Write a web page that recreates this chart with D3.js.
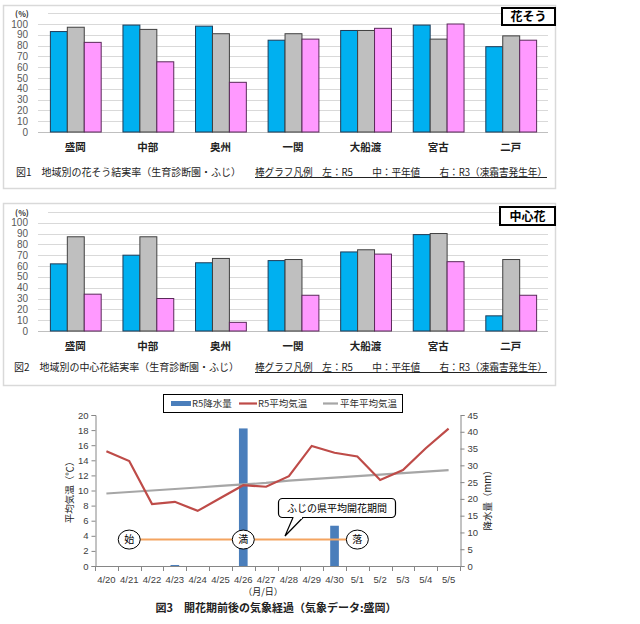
<!DOCTYPE html>
<html><head><meta charset="utf-8">
<script src="https://cdn.jsdelivr.net/npm/d3@7"></script>
<style>body{margin:0;background:#fff}svg{display:block}</style>
</head><body>
<script>
// ---------- DATA ----------
const regions = ["盛岡","中部","奥州","一関","大船渡","宮古","二戸"];
const seriesNames = ["R5","平年値","R3"];
// Fig 1: flower cluster fruit set (%)
const cluster_R5     = [93, 99, 98, 85, 94, 99, 79];
const cluster_normal = [97, 95, 91, 91, 94, 86, 89];
const cluster_R3     = [83, 65, 46, 86, 96, 100, 85];
// Fig 2: king flower fruit set (%)
const king_R5     = [62, 70, 63, 65, 73, 89, 14];
const king_normal = [87, 87, 67, 66, 75, 90, 66];
const king_R3     = [34, 30, 8, 33, 71, 64, 33];
const barTicks = [0,10,20,30,40,50,60,70,80,90,100];

// Fig 3: weather
const dates = ["4/20","4/21","4/22","4/23","4/24","4/25","4/26","4/27","4/28","4/29","4/30","5/1","5/2","5/3","5/4","5/5"];
const precipR5 = [0,0,0,0.3,0,0,41,0,0,0,12,0,0,0,0,0];
const tempR5 = [15.2,13.9,8.2,8.5,7.3,9.0,10.7,10.5,11.9,15.9,15.0,14.5,11.4,12.7,15.6,18.2];
const tempNormal = [9.6,9.8,10.0,10.2,10.4,10.6,10.8,11.0,11.3,11.5,11.7,11.9,12.1,12.3,12.5,12.7];
const bloom = [{label:"始",date:"4/21"},{label:"満",date:"4/26"},{label:"落",date:"5/1"}];
const bloomLevel = 3.5;
const tempTicks = [0,2,4,6,8,10,12,14,16,18,20];
const precipTicks = [0,5,10,15,20,25,30,35,40,45];

const colors = ["#00b0f0","#bfbfbf","#ff99ff"];
const JP = "'Noto Sans CJK JP','Noto Sans',sans-serif";
const NUM = "'Liberation Sans',Arial,sans-serif";

const svg = d3.select("body").append("svg").attr("width",640).attr("height",624);

function barChart(cfg){
  const g = svg.append("g");
  g.append("rect").attr("x",cfg.fx).attr("y",cfg.fy).attr("width",cfg.fw).attr("height",cfg.fh)
    .attr("fill","none").attr("stroke","#d9d9d9").attr("stroke-width",1.5);
  const y = d3.scaleLinear().domain([0,110]).range([cfg.y0, cfg.y0 - 110*cfg.k]);
  const x = d3.scaleBand().domain(regions).range([39,547]).paddingInner(0.3).paddingOuter(0.15);
  const xs = d3.scaleBand().domain(seriesNames).range([0,x.bandwidth()]);
  // grid
  g.selectAll("line.grid").data(d3.range(10,111,10)).join("line")
    .attr("x1",d=>d===110?48:38).attr("x2",548)
    .attr("y1",d=>Math.round(y(d))+0.5).attr("y2",d=>Math.round(y(d))+0.5)
    .attr("stroke","#d9d9d9").attr("stroke-width",1);
  g.append("line").attr("x1",38).attr("x2",548).attr("y1",Math.round(y(0))+0.5).attr("y2",Math.round(y(0))+0.5)
    .attr("stroke","#bfbfbf");
  // y labels
  g.selectAll("text.yt").data(barTicks).join("text")
    .attr("x",28).attr("y",d=>y(d)+3.5).attr("text-anchor","end")
    .attr("font-family",NUM).attr("font-size",10).attr("fill","#595959").text(d=>d);
  g.append("text").attr("x",22).attr("y",y(110)+4).attr("text-anchor","middle")
    .attr("font-family",JP).attr("font-size",8).attr("font-weight","bold").attr("fill","#333").text("(%)");
  // bars
  const rows = regions.map((r,i)=>({r, vals: cfg.series.map(s=>s[i])}));
  const grp = g.selectAll("g.grp").data(rows).join("g").attr("transform",d=>`translate(${x(d.r)},0)`);
  grp.selectAll("rect").data(d=>d.vals.map((v,j)=>({v,s:seriesNames[j],j}))).join("rect")
    .attr("x",d=>xs(d.s)+0.5).attr("width",xs.bandwidth())
    .attr("y",d=>y(d.v)).attr("height",d=>y(0)-y(d.v))
    .attr("fill",d=>colors[d.j]).attr("stroke",d=>["#1f3b57","#404040","#5a2a5a"][d.j]).attr("stroke-width",1);
  // categories
  g.selectAll("text.cat").data(regions).join("text")
    .attr("x",d=>x(d)+x.bandwidth()/2).attr("y",cfg.catY).attr("text-anchor","middle")
    .attr("font-family",JP).attr("font-size",10.5).attr("font-weight","bold").attr("fill","#222").text(d=>d);
  // caption
  g.append("text").attr("x",cfg.capX).attr("y",cfg.capY).attr("font-family",JP).attr("font-size",10)
    .attr("fill","#222").attr("textLength",225).attr("lengthAdjust","spacing").text(cfg.caption);
  g.append("text").attr("x",255).attr("y",cfg.capY).attr("font-family",JP).attr("font-size",10)
    .attr("fill","#222").attr("text-decoration","underline").attr("textLength",292).attr("lengthAdjust","spacingAndGlyphs")
    .text("棒グラフ凡例　左：R5　　中：平年値　　右：R3（凍霜害発生年）");
  // tag box
  g.append("rect").attr("x",cfg.tag[0]).attr("y",cfg.tag[1]).attr("width",cfg.tag[2]).attr("height",cfg.tag[3])
    .attr("fill","#fff").attr("stroke","#000").attr("stroke-width",2);
  g.append("text").attr("x",cfg.tag[0]+cfg.tag[2]/2).attr("y",cfg.tag[1]+cfg.tag[3]/2+4.5).attr("text-anchor","middle")
    .attr("font-family",JP).attr("font-size",12).attr("font-weight","bold").text(cfg.tagText);
}

barChart({fx:3.5,fy:5.5,fw:552,fh:183,y0:132,k:1.08,series:[cluster_R5,cluster_normal,cluster_R3],
  catY:151,capX:16,capY:176,caption:"図1　地域別の花そう結実率（生育診断園・ふじ）",tag:[502,8,53,17],tagText:"花そう"});
barChart({fx:3.5,fy:203.5,fw:552,fh:182,y0:331,k:1.083,series:[king_R5,king_normal,king_R3],
  catY:350,capX:14,capY:371,caption:"図2　地域別の中心花結実率（生育診断園・ふじ）",tag:[500,207,55,18],tagText:"中心花"});

// ---------- Fig 3 ----------
(function(){
  const g = svg.append("g");
  const x = d3.scaleBand().domain(dates).range([95,460]);
  const yL = d3.scaleLinear().domain([0,20]).range([566,415]);
  const yR = d3.scaleLinear().domain([0,45]).range([566,415]);
  const cx = d => x(d)+x.bandwidth()/2;
  // precip bars
  const bw = x.bandwidth()*0.38;
  g.selectAll("rect.p").data(dates.map((d,i)=>({d,v:precipR5[i]})).filter(o=>o.v>0)).join("rect")
    .attr("x",o=>cx(o.d)-bw/2).attr("width",bw).attr("y",o=>yR(o.v)).attr("height",o=>yR(0)-yR(o.v))
    .attr("fill","#4a7ebb");
  // normal temp
  const line = d3.line().x((v,i)=>cx(dates[i])).y(v=>yL(v));
  g.append("path").attr("d",line(tempNormal)).attr("fill","none").attr("stroke","#a6a6a6").attr("stroke-width",2.2);
  g.append("path").attr("d",line(tempR5)).attr("fill","none").attr("stroke","#be4b48").attr("stroke-width",2.2);
  // axes
  const axL = g.append("g").attr("transform","translate(95.5,0)").call(d3.axisLeft(yL).tickValues(tempTicks).tickSize(4));
  const axR = g.append("g").attr("transform","translate(460.5,0)").call(d3.axisRight(yR).tickValues(precipTicks).tickSize(4));
  [axL,axR].forEach(a=>{
    a.select(".domain").attr("stroke","#868686");
    a.selectAll(".tick line").attr("stroke","#868686");
    a.selectAll("text").attr("font-family",NUM).attr("font-size",9.5).attr("fill","#404040");
  });
  g.append("line").attr("x1",95).attr("x2",461).attr("y1",566.5).attr("y2",566.5).attr("stroke","#868686");
  const bounds = dates.map(d=>x(d)).concat([x(dates[dates.length-1])+x.bandwidth()]);
  g.selectAll("line.xt").data(bounds).join("line").attr("x1",d=>Math.round(d)+0.5).attr("x2",d=>Math.round(d)+0.5)
    .attr("y1",566).attr("y2",571).attr("stroke","#868686");
  g.selectAll("text.xl").data(dates).join("text").attr("x",cx).attr("y",583).attr("text-anchor","middle")
    .attr("font-family",NUM).attr("font-size",9.5).attr("fill","#404040").text(d=>d);
  // axis titles
  g.append("text").attr("transform","translate(73,490) rotate(-90)").attr("text-anchor","middle")
    .attr("font-family",JP).attr("font-size",9.5).attr("fill","#222").text("平均気温（℃）");
  g.append("text").attr("transform","translate(491,498) rotate(-90)").attr("text-anchor","middle")
    .attr("font-family",JP).attr("font-size",9.5).attr("fill","#222").text("降水量（mm）");
  g.append("text").attr("x",263).attr("y",595).attr("text-anchor","middle")
    .attr("font-family",JP).attr("font-size",9).attr("fill","#222").text("（月/日）");
  g.append("text").attr("x",276).attr("y",612).attr("text-anchor","middle")
    .attr("font-family",JP).attr("font-size",11).attr("font-weight","bold").attr("fill","#222")
    .text("図3　開花期前後の気象経過（気象データ:盛岡）");
  // bloom period
  const by = yL(bloomLevel);
  g.append("line").attr("x1",cx(bloom[0].date)).attr("x2",cx(bloom[2].date)).attr("y1",by).attr("y2",by)
    .attr("stroke","#f4a460").attr("stroke-width",2);
  const bl = g.selectAll("g.bl").data(bloom).join("g").attr("transform",d=>`translate(${cx(d.date)},${by})`);
  bl.append("ellipse").attr("rx",11).attr("ry",9.5).attr("fill","#fff").attr("stroke","#000").attr("stroke-width",1);
  bl.append("text").attr("y",3.5).attr("text-anchor","middle").attr("font-family",JP).attr("font-size",10).text(d=>d.label);
  // callout
  g.append("rect").attr("x",278.5).attr("y",498.5).attr("width",117).attr("height",19).attr("rx",4)
    .attr("fill","#fff").attr("stroke","#000").attr("stroke-width",1.2);
  g.append("path").attr("d","M293,517.5 L285,536 L303,517.5").attr("fill","#fff").attr("stroke","#000").attr("stroke-width",1.2);
  g.append("line").attr("x1",293.8).attr("x2",302).attr("y1",517.8).attr("y2",517.8).attr("stroke","#fff").attr("stroke-width",2);
  g.append("text").attr("x",337).attr("y",511.5).attr("text-anchor","middle").attr("font-family",JP).attr("font-size",10)
    .text("ふじの県平均開花期間");
  // legend
  g.append("rect").attr("x",163.5).attr("y",394.5).attr("width",239).attr("height",18).attr("fill","#fff").attr("stroke","#000");
  g.append("rect").attr("x",171).attr("y",401).attr("width",20).attr("height",5).attr("fill","#4a7ebb");
  g.append("line").attr("x1",239).attr("x2",257).attr("y1",403.5).attr("y2",403.5).attr("stroke","#be4b48").attr("stroke-width",2.2);
  g.append("line").attr("x1",323).attr("x2",338).attr("y1",403.5).attr("y2",403.5).attr("stroke","#a6a6a6").attr("stroke-width",2.2);
  [["R5降水量",192],["R5平均気温",258],["平年平均気温",340]].forEach(([t,xx])=>{
    g.append("text").attr("x",xx).attr("y",407).attr("font-family",JP).attr("font-size",9.5).attr("fill","#333").text(t);
  });
})();
</script>
</body></html>
